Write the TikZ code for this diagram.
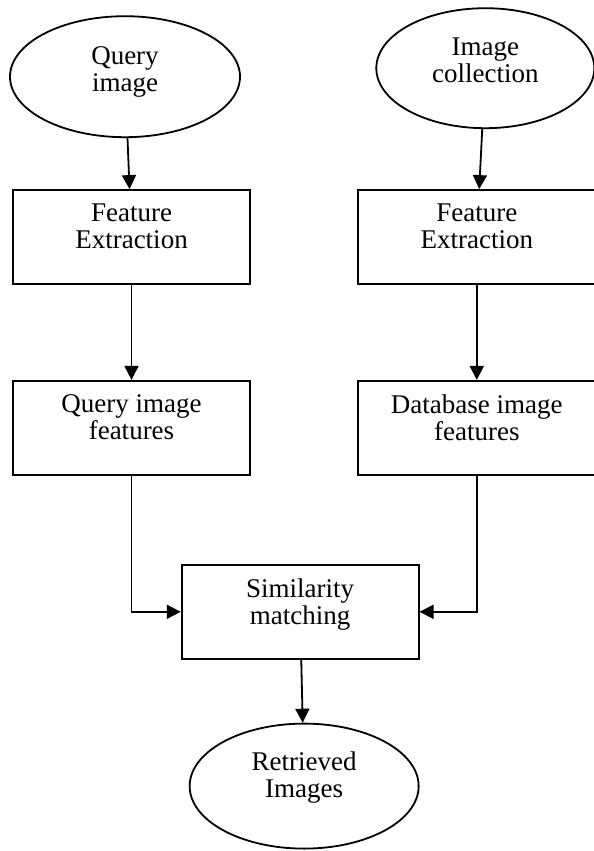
\documentclass[tikz,border=0pt]{standalone}
\usepackage{fontspec}
\setmainfont{Liberation Serif}
\usetikzlibrary{arrows.meta, positioning, calc, shapes.geometric}

\begin{document}
\begin{tikzpicture}[
                box/.style={rectangle, draw, line width=0.9pt, minimum width=118.5pt, minimum height=47pt, align=center, font=\fontsize{13.5}{13.5}\selectfont, text depth=10.5pt},
                blob/.style={ellipse, draw, line width=0.9pt, inner sep=0pt, align=center, font=\fontsize{13.5}{13.5}\selectfont, text depth=#1},
                arrow/.style={-{Triangle[width=7pt, length=7pt]}, line width=0.9pt},
                node distance=47.5pt
            ]
                \useasboundingbox (0,0) rectangle (297pt,-425.5pt);
                \node[box] (fe1) at (65.75pt,-118.5pt) {Feature\\Extraction};
                \node[box, right=53.25pt of fe1] (fe2) {Feature\\Extraction};
                \node[box, below=of fe1] (qf) {Query image\\features};
                \node[box, below=of fe2] (df) {Database image\\features};
                \node[blob=8pt, minimum width=115pt, minimum height=60.5pt, above=25.5pt of fe1, xshift=-3.25pt] (qimg) {Query\\image};
                \node[blob=8pt, minimum width=109pt, minimum height=60pt, above=30pt of fe2, xshift=4.25pt] (coll) {Image\\collection};
                \node[box] (sim) at ($(qf)!0.5!(df)+(-2pt,-92pt)$) {Similarity\\matching};
                \node[blob=11pt, minimum width=114.5pt, minimum height=62.5pt, below=31.5pt of sim, xshift=2pt] (ret) {Retrieved\\Images};

                \draw[arrow] (qimg) -- (fe1);
                \draw[arrow] (coll) -- (fe2);
                \draw[arrow] (fe1) -- (qf);
                \draw[arrow] (fe2) -- (df);
                \draw[arrow] (qf) |- (sim);
                \draw[arrow] (df) |- (sim);
                \draw[arrow] (sim) -- (ret);
            \end{tikzpicture}
\end{document}
